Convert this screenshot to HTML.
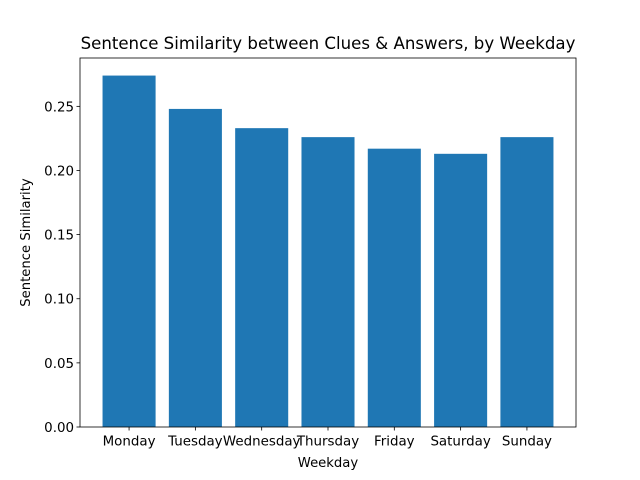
<!DOCTYPE html>
<html><head><meta charset="utf-8"><style>
body{margin:0;background:#fff;}
svg{display:block;font-family:"DejaVu Sans","Liberation Sans",sans-serif;}
</style></head><body>
<svg id="chart" width="640" height="480" viewBox="0 0 640 480"></svg>
<script>
const categories = ["Monday","Tuesday","Wednesday","Thursday","Friday","Saturday","Sunday"];
const values = [0.274, 0.248, 0.233, 0.226, 0.217, 0.213, 0.226];
const yTicks = [0.00, 0.05, 0.10, 0.15, 0.20, 0.25];
const yTickLabels = ["0.00","0.05","0.10","0.15","0.20","0.25"];

const svg = document.getElementById('chart');
const NS = "http://www.w3.org/2000/svg";
const L=80, R=576, T=58, B=427;
const ymax = Math.max(...values)*1.05;
const n = categories.length;
const xmin = -0.4 - 0.05*(n-1+0.8), xmax = n-1+0.4 + 0.05*(n-1+0.8);
const xs = v => L + (v - xmin)/(xmax - xmin)*(R-L);
const ys = v => B - v/ymax*(B-T);
function mk(tag, attrs, parent){const e=document.createElementNS(NS,tag);for(const k in attrs)e.setAttribute(k,attrs[k]);(parent||svg).appendChild(e);return e;}

categories.forEach((c,i)=>{
  const w = xs(0.8)-xs(0);
  const r = mk('rect',{x:xs(i-0.4),y:ys(values[i]),width:w,height:B-ys(values[i]),fill:'#1f77b4'});
  
  
  mk('line',{x1:xs(i),x2:xs(i),y1:B,y2:B+3.5,stroke:'#000','stroke-width':0.8});
  const t = mk('text',{x:xs(i),y:B+18.5,'text-anchor':'middle','font-size':13.4});
  t.textContent=c;
  
  
});
yTicks.forEach((v,i)=>{
  mk('line',{x1:L-3.5,x2:L,y1:ys(v),y2:ys(v),stroke:'#000','stroke-width':0.8});
  const t = mk('text',{x:L-6,y:ys(v)+5,'text-anchor':'end','font-size':13.4});
  t.textContent=yTickLabels[i];
  
  
});
const frame = mk('rect',{x:L,y:T,width:R-L,height:B-T,fill:'none',stroke:'#000','stroke-width':0.8});


const title = mk('text',{x:(L+R)/2,y:T-9,'text-anchor':'middle','font-size':16.6});
title.textContent='Sentence Similarity between Clues & Answers, by Weekday';


const xl = mk('text',{x:(L+R)/2,y:467,'text-anchor':'middle','font-size':13.2});
xl.textContent='Weekday';


const yl = mk('text',{x:30,y:(T+B)/2,'text-anchor':'middle','font-size':13.2,transform:`rotate(-90 30 ${(T+B)/2})`});
yl.textContent='Sentence Similarity';


</script>
</body></html>
